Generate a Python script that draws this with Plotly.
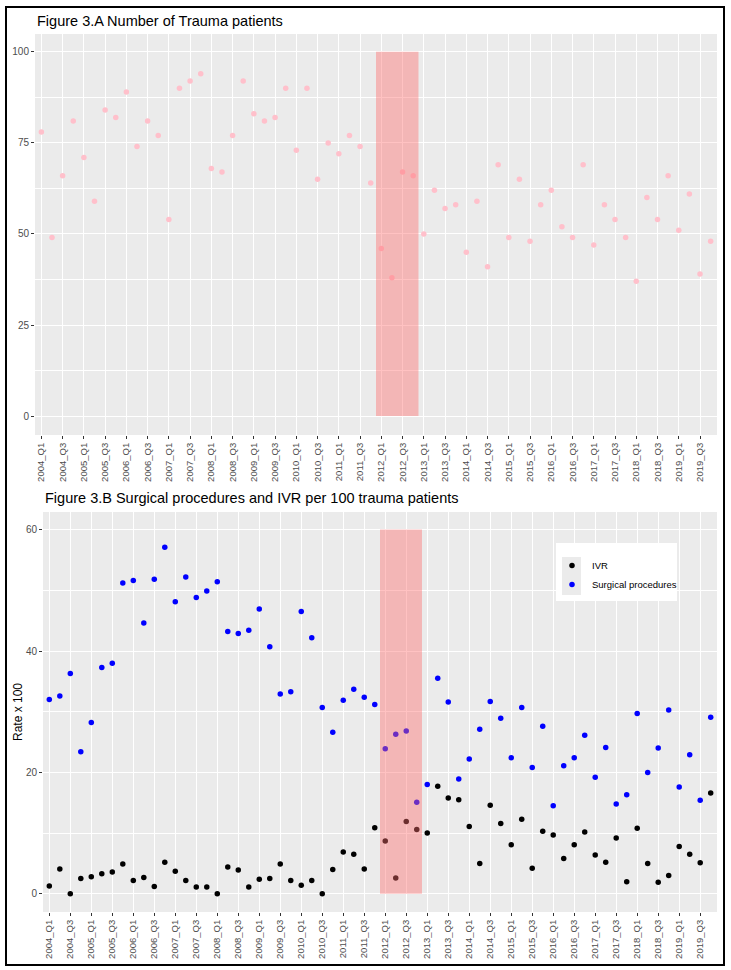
import plotly.graph_objects as go

W, H = 731, 970

quarters = [f"{y}_Q{q}" for y in range(2004, 2020) for q in range(1, 5)]
tick_labels = quarters[::2]

trauma_patients = [78, 49, 66, 81, 71, 59, 84, 82, 89, 74, 81, 77, 54, 90, 92, 94,
                   68, 67, 77, 92, 83, 81, 82, 90, 73, 90, 65, 75, 72, 77, 74, 64,
                   46, 38, 67, 66, 50, 62, 57, 58, 45, 59, 41, 69, 49, 65, 48, 58,
                   62, 52, 49, 69, 47, 58, 54, 49, 37, 60, 54, 66, 51, 61, 39, 48]

surgical_procedures = [32.0, 32.6, 36.3, 23.4, 28.2, 37.3, 38.0, 51.2,
                       51.6, 44.6, 51.8, 57.1, 48.1, 52.2, 48.8, 49.9,
                       51.4, 43.2, 42.9, 43.4, 46.9, 40.7, 32.9, 33.3,
                       46.5, 42.2, 30.7, 26.6, 31.9, 33.7, 32.4, 31.2,
                       23.9, 26.3, 26.8, 15.1, 18.0, 35.5, 31.6, 18.9,
                       22.2, 27.1, 31.7, 28.9, 22.4, 30.7, 20.8, 27.6,
                       14.5, 21.1, 22.4, 26.1, 19.2, 24.1, 14.8, 16.3,
                       29.7, 20.0, 24.0, 30.3, 17.6, 22.9, 15.4, 29.1]

ivr = [1.3, 4.1, 0.0, 2.5, 2.8, 3.3, 3.6, 4.9,
       2.2, 2.7, 1.2, 5.2, 3.7, 2.2, 1.1, 1.1,
       0.0, 4.4, 3.9, 1.1, 2.4, 2.5, 4.9, 2.2,
       1.4, 2.2, 0.0, 4.0, 6.9, 6.5, 4.1, 10.9,
       8.7, 2.6, 11.9, 10.6, 10.0, 17.7, 15.8, 15.5,
       11.1, 5.0, 14.6, 11.6, 8.1, 12.3, 4.2, 10.3,
       9.7, 5.8, 8.1, 10.2, 6.4, 5.2, 9.2, 2.0,
       10.8, 5.0, 1.9, 3.0, 7.8, 6.5, 5.1, 16.6]

period_start = "2012_Q1"
period_end = "2012_Q4"

def px(x):
    return x / W

def py(y):
    return 1 - y / H

fig = go.Figure()

fig.add_trace(go.Scatter(x=quarters, y=trauma_patients, mode="markers",
                         marker=dict(color="#FFC0CB", size=5.5), showlegend=False,
                         xaxis="x", yaxis="y"))
fig.add_trace(go.Scatter(x=quarters, y=ivr, mode="markers", name="IVR",
                         marker=dict(color="black", size=5.5),
                         xaxis="x2", yaxis="y2"))
fig.add_trace(go.Scatter(x=quarters, y=surgical_procedures, mode="markers",
                         name="Surgical procedures",
                         marker=dict(color="#0000FF", size=5.5),
                         xaxis="x2", yaxis="y2"))

tickfont = dict(family="Liberation Sans, Arial", size=9.5, color="#4D4D4D")
ytickfont = dict(family="Liberation Sans, Arial", size=10, color="#4D4D4D")

xcommon = dict(type="category", categoryorder="array", categoryarray=quarters,
               range=[-0.6, 63.6], tickmode="array", tickvals=tick_labels,
               ticktext=tick_labels, tickangle=-90, tickfont=tickfont,
               ticks="outside", ticklen=3, tickcolor="#333333", tickwidth=1,
               showgrid=True, gridcolor="white", gridwidth=1.1, zeroline=False,
               showline=False)

fig.update_layout(
    width=W, height=H,
    margin=dict(l=0, r=0, t=0, b=0),
    paper_bgcolor="white", plot_bgcolor="#EBEBEB",
    font=dict(family="Liberation Sans, Arial", color="black"),
    xaxis=dict(domain=[px(35), px(717)], anchor="y", **xcommon),
    yaxis=dict(domain=[py(435), py(34)], anchor="x", range=[-5.2, 104.9],
               tickvals=[0, 25, 50, 75, 100], tickfont=ytickfont,
               ticks="outside", ticklen=3, tickcolor="#333333",
               showgrid=True, gridcolor="white", gridwidth=1.1, zeroline=False,
               minor=dict(dtick=12.5, tick0=0, showgrid=True, gridcolor="white",
                          gridwidth=0.5, ticks="")),
    xaxis2=dict(domain=[px(43), px(717)], anchor="y2", **xcommon),
    yaxis2=dict(domain=[py(912), py(512)], anchor="x2", range=[-3.0, 62.9],
                tickvals=[0, 20, 40, 60], tickfont=ytickfont,
                ticks="outside", ticklen=3, tickcolor="#333333",
                showgrid=True, gridcolor="white", gridwidth=1.1, zeroline=False,
                minor=dict(dtick=10, tick0=0, showgrid=True, gridcolor="white",
                           gridwidth=0.5, ticks="")),
    legend=dict(x=px(552), y=py(551), xanchor="left", yanchor="top",
                bgcolor="rgba(0,0,0,0)", borderwidth=0,
                font=dict(family="Liberation Sans, Arial", size=9.5, color="black")),
)

i0 = quarters.index(period_start) - 0.5
i1 = quarters.index(period_end) + 0.5
rect_fill = "rgba(255,110,110,0.42)"
fig.add_shape(type="rect", xref="x", yref="y", x0=i0, x1=i1, y0=0, y1=100,
              fillcolor=rect_fill, line=dict(width=0), layer="above")
fig.add_shape(type="rect", xref="x2", yref="y2", x0=i0, x1=i1, y0=0, y1=60,
              fillcolor=rect_fill, line=dict(width=0), layer="above")

# legend box and key background
fig.add_shape(type="rect", xref="paper", yref="paper", x0=px(556), x1=px(677),
              y0=py(601), y1=py(543), fillcolor="white", line=dict(width=0),
              layer="above")
fig.add_shape(type="rect", xref="paper", yref="paper", x0=px(562), x1=px(581),
              y0=py(595), y1=py(557), fillcolor="#EBEBEB", line=dict(width=0),
              layer="above")

# outer border
fig.add_shape(type="rect", xref="paper", yref="paper", x0=px(6), x1=px(724),
              y0=py(965), y1=py(7), line=dict(color="black", width=2),
              fillcolor="rgba(0,0,0,0)", layer="above")

fig.add_annotation(xref="paper", yref="paper", x=px(35), y=py(20.5),
                   xanchor="left", yanchor="middle", showarrow=False,
                   text="Figure 3.A Number of Trauma patients",
                   font=dict(family="Liberation Sans, Arial", size=14.5, color="black"))
fig.add_annotation(xref="paper", yref="paper", x=px(43), y=py(498),
                   xanchor="left", yanchor="middle", showarrow=False,
                   text="Figure 3.B Surgical procedures and IVR per 100 trauma patients",
                   font=dict(family="Liberation Sans, Arial", size=14.5, color="black"))
fig.add_annotation(xref="paper", yref="paper", x=px(18), y=py(712),
                   xanchor="center", yanchor="middle", showarrow=False,
                   text="Rate x 100", textangle=-90,
                   font=dict(family="Liberation Sans, Arial", size=12, color="black"))

fig.write_html("out.html", config={"displayModeBar": False},
               post_script="document.body.style.margin='0';document.body.style.overflow='hidden';")
